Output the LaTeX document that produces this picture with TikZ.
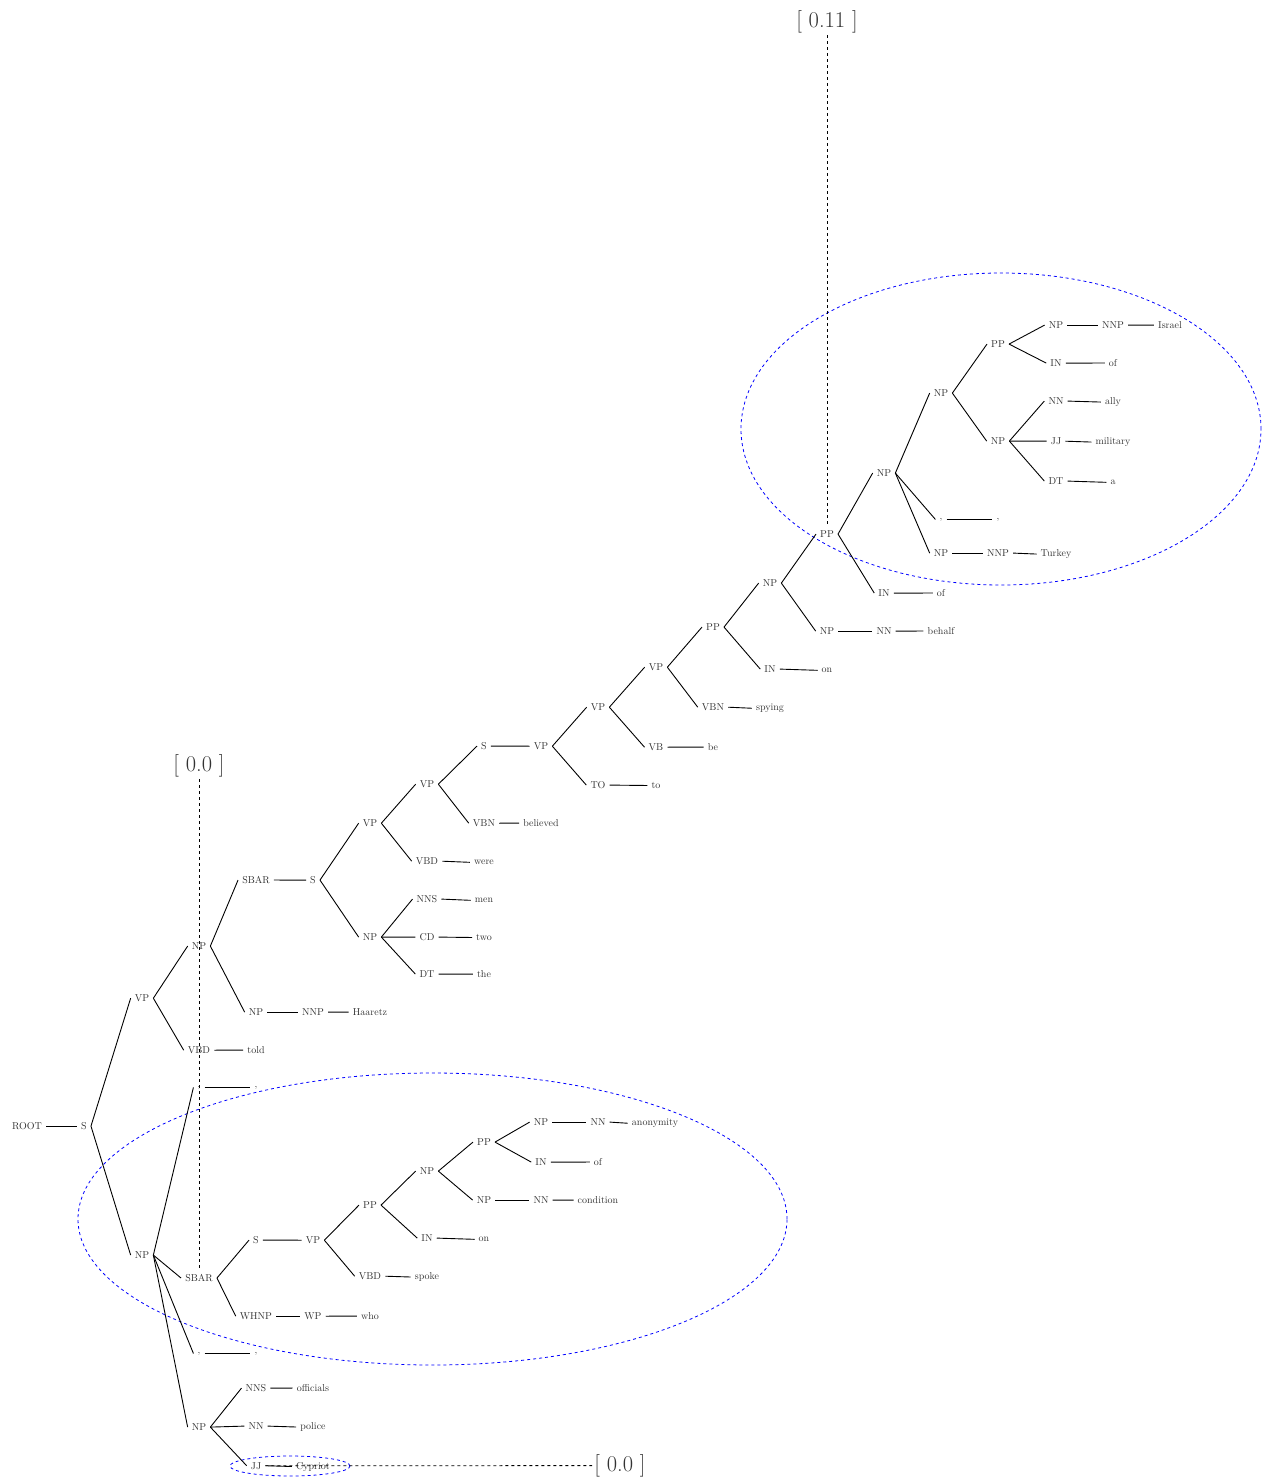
\documentclass[tikz,border=0pt]{standalone}
\usepackage{tikz}
\tikzset{
    tag/.style={anchor=base, inner sep=4pt, text=black!80, font=\normalsize},
    word/.style={tag},
    score/.style={inner sep=2pt, text=black!80, font=\fontsize{22.5}{27}\selectfont},
    branch/.style={line width=0.9pt},
    link/.style={dashed, line width=0.8pt},
    focus/.style={draw=blue, dashed, line width=0.8pt}
}
\begin{document}
\begin{tikzpicture}[x=1pt, y=-1pt]
    \useasboundingbox (0,0) rectangle (1274,1482);

    % Highlighted spans
    \draw [focus] (1001,429) ellipse [x radius=260pt, y radius=156pt];
    \draw [focus] (432.5,1219) ellipse [x radius=354.5pt, y radius=146pt];
    \draw [focus] (290,1466) ellipse [x radius=60pt, y radius=10pt];

    % Top of the tree
    \node (root) [tag] at (27,1129.5) {ROOT};
    \node (s) [tag] at (84,1129.5) {S};
    \node (vpMain) [tag] at (142,1001.5) {VP};
    \node (npSubj) [tag] at (142,1258.5) {NP};

    % Verb phrase: told Haaretz ...
    \node (npObj) [tag] at (199,949.5) {NP};
    \node (vbdTold) [tag] at (199,1053.5) {VBD};
    \node (wTold) [word] at (256,1053.5) {told};
    \node (sbarMen) [tag] at (256,883.5) {SBAR};
    \node (sMen) [tag] at (313,883.5) {S};
    \node (npHaaretz) [tag] at (256,1015.5) {NP};
    \node (nnpHaaretz) [tag] at (313,1015.5) {NNP};
    \node (wHaaretz) [word] at (370,1015.5) {Haaretz};

    % the two men
    \node (vpWere) [tag] at (370,826.5) {VP};
    \node (npMen) [tag] at (370,940.5) {NP};
    \node (nnsMen) [tag] at (427,902.5) {NNS};
    \node (wMen) [word] at (484,902.5) {men};
    \node (cdTwo) [tag] at (427,940.5) {CD};
    \node (wTwo) [word] at (484,940.5) {two};
    \node (dtThe) [tag] at (427,977.5) {DT};
    \node (wThe) [word] at (484,977.5) {the};

    % were believed to be spying ...
    \node (vpBelieved) [tag] at (427,787.5) {VP};
    \node (vbdWere) [tag] at (427,864.5) {VBD};
    \node (wWere) [word] at (484,864.5) {were};
    \node (sTo) [tag] at (484,749.5) {S};
    \node (vbnBelieved) [tag] at (484,826.5) {VBN};
    \node (wBelieved) [word] at (541,826.5) {believed};
    \node (vpTo) [tag] at (541,749.5) {VP};
    \node (vpBe) [tag] at (598,710.5) {VP};
    \node (toTo) [tag] at (598,788.5) {TO};
    \node (wTo) [word] at (656,788.5) {to};
    \node (vpSpying) [tag] at (656,670.5) {VP};
    \node (vbBe) [tag] at (656,750.5) {VB};
    \node (wBe) [word] at (713,750.5) {be};
    \node (ppOn) [tag] at (713,630.5) {PP};
    \node (vbnSpying) [tag] at (713,710.5) {VBN};
    \node (wSpying) [word] at (770,710.5) {spying};

    % on behalf of Turkey ...
    \node (npBehalf) [tag] at (770,586.5) {NP};
    \node (inOn) [tag] at (770,672.5) {IN};
    \node (wOn) [word] at (827,672.5) {on};
    \node (ppOf) [tag] at (827,537.5) {PP};
    \node (npHalf) [tag] at (827,634.5) {NP};
    \node (nnBehalf) [tag] at (884,634.5) {NN};
    \node (wBehalf) [word] at (941,634.5) {behalf};
    \node (npTurkey) [tag] at (884,476.5) {NP};
    \node (inOf) [tag] at (884,596.5) {IN};
    \node (wOf) [word] at (941,596.5) {of};
    \node (npAlly) [tag] at (941,396.5) {NP};
    \node (commaT) [tag] at (941,519) {,};
    \node (wCommaT) [word] at (998,519) {,};
    \node (npT) [tag] at (941,556.5) {NP};
    \node (nnpTurkey) [tag] at (998,556.5) {NNP};
    \node (wTurkey) [word] at (1056,556.5) {Turkey};

    % a military ally of Israel
    \node (ppIsrael) [tag] at (998,347.5) {PP};
    \node (npMil) [tag] at (998,444.5) {NP};
    \node (npIsrael) [tag] at (1056,328.5) {NP};
    \node (nnpIsrael) [tag] at (1113,328.5) {NNP};
    \node (wIsrael) [word] at (1170,328.5) {Israel};
    \node (inIsrael) [tag] at (1056,366.5) {IN};
    \node (wOfIsrael) [word] at (1113,366.5) {of};
    \node (nnAlly) [tag] at (1056,404.5) {NN};
    \node (wAlly) [word] at (1113,404.5) {ally};
    \node (jjMil) [tag] at (1056,444.5) {JJ};
    \node (wMilitary) [word] at (1113,444.5) {military};
    \node (dtA) [tag] at (1056,484.5) {DT};
    \node (wA) [word] at (1113,484.5) {a};

    % Subject: Cypriot police officials, who spoke ...
    \node (commaA) [tag] at (199,1087) {,};
    \node (wCommaA) [word] at (256,1087) {,};
    \node (sbarWho) [tag] at (199,1281.5) {SBAR};
    \node (commaB) [tag] at (199,1353) {,};
    \node (wCommaB) [word] at (256,1353) {,};
    \node (npOff) [tag] at (199,1430.5) {NP};
    \node (sSpoke) [tag] at (256,1243.5) {S};
    \node (whnp) [tag] at (256,1319.5) {WHNP};
    \node (wp) [tag] at (313,1319.5) {WP};
    \node (wWho) [word] at (370,1319.5) {who};
    \node (vpSpoke) [tag] at (313,1243.5) {VP};
    \node (ppCond) [tag] at (370,1208.5) {PP};
    \node (vbdSpoke) [tag] at (370,1279.5) {VBD};
    \node (wSpoke) [word] at (427,1279.5) {spoke};
    \node (npCond) [tag] at (427,1174.5) {NP};
    \node (inCond) [tag] at (427,1241.5) {IN};
    \node (wOnCond) [word] at (484,1241.5) {on};
    \node (ppAnon) [tag] at (484,1145.5) {PP};
    \node (npC) [tag] at (484,1203.5) {NP};
    \node (nnCond) [tag] at (541,1203.5) {NN};
    \node (wCondition) [word] at (598,1203.5) {condition};
    \node (npAnon) [tag] at (541,1125.5) {NP};
    \node (nnAnon) [tag] at (598,1125.5) {NN};
    \node (wAnonymity) [word] at (655,1125.5) {anonymity};
    \node (inAnon) [tag] at (541,1165.5) {IN};
    \node (wOfAnon) [word] at (598,1165.5) {of};
    \node (nnsOff) [tag] at (256,1391.5) {NNS};
    \node (wOfficials) [word] at (313,1391.5) {officials};
    \node (nnPolice) [tag] at (256,1429.5) {NN};
    \node (wPolice) [word] at (313,1429.5) {police};
    \node (jjCyp) [tag] at (256,1469) {JJ};
    \node (wCypriot) [word] at (313,1469) {Cypriot};

    % Scores
    \node (scoreTop) [score] at (827,22) {[ 0.11 ]};
    \node (scoreMid) [score] at (199,766) {[ 0.0 ]};
    \node (scoreLow) [score] at (620,1465.6) {[ 0.0 ]};

    % Branches of the upper part
    \draw [branch] (root.east) -- (s.west);
    \draw [branch] (s.east) -- (vpMain.west);
    \draw [branch] (s.east) -- (npSubj.west);
    \draw [branch] (vpMain.east) -- (npObj.west);
    \draw [branch] (vpMain.east) -- (vbdTold.west);
    \draw [branch] (vbdTold.east) -- (wTold.west);
    \draw [branch] (npObj.east) -- (sbarMen.west);
    \draw [branch] (npObj.east) -- (npHaaretz.west);
    \draw [branch] (npHaaretz.east) -- (nnpHaaretz.west);
    \draw [branch] (nnpHaaretz.east) -- (wHaaretz.west);
    \draw [branch] (sbarMen.east) -- (sMen.west);
    \draw [branch] (sMen.east) -- (vpWere.west);
    \draw [branch] (sMen.east) -- (npMen.west);
    \draw [branch] (npMen.east) -- (nnsMen.west);
    \draw [branch] (npMen.east) -- (cdTwo.west);
    \draw [branch] (npMen.east) -- (dtThe.west);
    \draw [branch] (nnsMen.east) -- (wMen.west);
    \draw [branch] (cdTwo.east) -- (wTwo.west);
    \draw [branch] (dtThe.east) -- (wThe.west);
    \draw [branch] (vpWere.east) -- (vpBelieved.west);
    \draw [branch] (vpWere.east) -- (vbdWere.west);
    \draw [branch] (vbdWere.east) -- (wWere.west);
    \draw [branch] (vpBelieved.east) -- (sTo.west);
    \draw [branch] (vpBelieved.east) -- (vbnBelieved.west);
    \draw [branch] (vbnBelieved.east) -- (wBelieved.west);
    \draw [branch] (sTo.east) -- (vpTo.west);
    \draw [branch] (vpTo.east) -- (vpBe.west);
    \draw [branch] (vpTo.east) -- (toTo.west);
    \draw [branch] (toTo.east) -- (wTo.west);
    \draw [branch] (vpBe.east) -- (vpSpying.west);
    \draw [branch] (vpBe.east) -- (vbBe.west);
    \draw [branch] (vbBe.east) -- (wBe.west);
    \draw [branch] (vpSpying.east) -- (ppOn.west);
    \draw [branch] (vpSpying.east) -- (vbnSpying.west);
    \draw [branch] (vbnSpying.east) -- (wSpying.west);
    \draw [branch] (ppOn.east) -- (npBehalf.west);
    \draw [branch] (ppOn.east) -- (inOn.west);
    \draw [branch] (inOn.east) -- (wOn.west);
    \draw [branch] (npBehalf.east) -- (ppOf.west);
    \draw [branch] (npBehalf.east) -- (npHalf.west);
    \draw [branch] (npHalf.east) -- (nnBehalf.west);
    \draw [branch] (nnBehalf.east) -- (wBehalf.west);
    \draw [branch] (ppOf.east) -- (npTurkey.west);
    \draw [branch] (ppOf.east) -- (inOf.west);
    \draw [branch] (inOf.east) -- (wOf.west);
    \draw [branch] (npTurkey.east) -- (npAlly.west);
    \draw [branch] (npTurkey.east) -- (commaT.west);
    \draw [branch] (npTurkey.east) -- (npT.west);
    \draw [branch] (commaT.east) -- (wCommaT.west);
    \draw [branch] (npT.east) -- (nnpTurkey.west);
    \draw [branch] (nnpTurkey.east) -- (wTurkey.west);
    \draw [branch] (npAlly.east) -- (ppIsrael.west);
    \draw [branch] (npAlly.east) -- (npMil.west);
    \draw [branch] (ppIsrael.east) -- (npIsrael.west);
    \draw [branch] (ppIsrael.east) -- (inIsrael.west);
    \draw [branch] (npIsrael.east) -- (nnpIsrael.west);
    \draw [branch] (nnpIsrael.east) -- (wIsrael.west);
    \draw [branch] (inIsrael.east) -- (wOfIsrael.west);
    \draw [branch] (npMil.east) -- (nnAlly.west);
    \draw [branch] (npMil.east) -- (jjMil.west);
    \draw [branch] (npMil.east) -- (dtA.west);
    \draw [branch] (nnAlly.east) -- (wAlly.west);
    \draw [branch] (jjMil.east) -- (wMilitary.west);
    \draw [branch] (dtA.east) -- (wA.west);

    % Branches of the subject
    \draw [branch] (npSubj.east) -- (commaA.west);
    \draw [branch] (npSubj.east) -- (sbarWho.west);
    \draw [branch] (npSubj.east) -- (commaB.west);
    \draw [branch] (npSubj.east) -- (npOff.west);
    \draw [branch] (commaA.east) -- (wCommaA.west);
    \draw [branch] (commaB.east) -- (wCommaB.west);
    \draw [branch] (sbarWho.east) -- (sSpoke.west);
    \draw [branch] (sbarWho.east) -- (whnp.west);
    \draw [branch] (whnp.east) -- (wp.west);
    \draw [branch] (wp.east) -- (wWho.west);
    \draw [branch] (sSpoke.east) -- (vpSpoke.west);
    \draw [branch] (vpSpoke.east) -- (ppCond.west);
    \draw [branch] (vpSpoke.east) -- (vbdSpoke.west);
    \draw [branch] (vbdSpoke.east) -- (wSpoke.west);
    \draw [branch] (ppCond.east) -- (npCond.west);
    \draw [branch] (ppCond.east) -- (inCond.west);
    \draw [branch] (inCond.east) -- (wOnCond.west);
    \draw [branch] (npCond.east) -- (ppAnon.west);
    \draw [branch] (npCond.east) -- (npC.west);
    \draw [branch] (npC.east) -- (nnCond.west);
    \draw [branch] (nnCond.east) -- (wCondition.west);
    \draw [branch] (ppAnon.east) -- (npAnon.west);
    \draw [branch] (ppAnon.east) -- (inAnon.west);
    \draw [branch] (npAnon.east) -- (nnAnon.west);
    \draw [branch] (nnAnon.east) -- (wAnonymity.west);
    \draw [branch] (inAnon.east) -- (wOfAnon.west);
    \draw [branch] (npOff.east) -- (nnsOff.west);
    \draw [branch] (npOff.east) -- (nnPolice.west);
    \draw [branch] (npOff.east) -- (jjCyp.west);
    \draw [branch] (nnsOff.east) -- (wOfficials.west);
    \draw [branch] (nnPolice.east) -- (wPolice.west);
    \draw [branch] (jjCyp.east) -- (wCypriot.west);

    % Score links
    \draw [link] (scoreTop) -- (ppOf);
    \draw [link] (scoreMid) -- (sbarWho);
    \draw [link] (jjCyp) -- (scoreLow);

\end{tikzpicture}
\end{document}
